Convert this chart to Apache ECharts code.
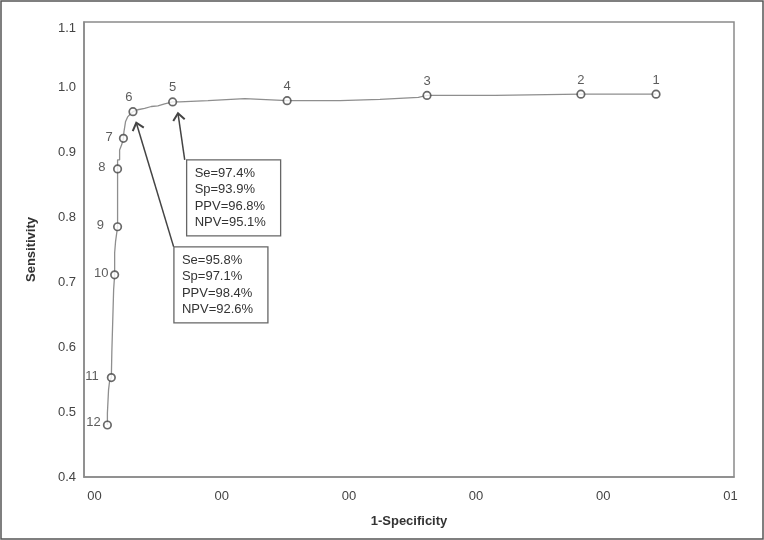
<!DOCTYPE html>
<html>
<head>
<meta charset="utf-8" />
<title>ROC curve</title>
<script src="https://cdn.jsdelivr.net/npm/echarts@6/dist/echarts.min.js"></script>
</head>
<body style="margin:0">
<div id="main" style="width:764px;height:540px"></div>
<script>
// step curve (1-specificity, sensitivity)
var curveX = [0.101,0.101,0.110,0.110,0.118,0.118,0.132,0.136,0.150,0.150,0.158,0.158,0.165,0.165,0.179,0.181,0.181,0.181,0.181,0.197,0.197,0.213,0.227,0.231,0.244,0.260,0.280,0.302,0.339,0.339,0.394,0.394,0.446,0.446,0.498,0.498,0.551,0.551,0.614,0.669,0.669,0.892,0.892,1.181,1.181,1.514,1.929,1.929,2.244,2.244,2.546,2.546,2.614,3.150,3.150,3.824,4.415];
var curveY = [0.480,0.498,0.498,0.534,0.534,0.547,0.553,0.593,0.593,0.688,0.711,0.745,0.745,0.762,0.762,0.785,0.808,0.874,0.888,0.888,0.903,0.911,0.921,0.931,0.947,0.954,0.958,0.962,0.965,0.967,0.967,0.970,0.970,0.971,0.971,0.974,0.974,0.976,0.977,0.977,0.979,0.979,0.982,0.982,0.979,0.979,0.979,0.981,0.981,0.984,0.984,0.986,0.987,0.987,0.989,0.989,0.989];

// numbered cut-off points
var markerLabels = ['1','2','3','4','5','6','7','8','9','10','11','12'];
var markerX = [4.415,3.824,2.614,1.514,0.614,0.302,0.227,0.181,0.181,0.158,0.132,0.101];
var markerY = [0.989,0.989,0.987,0.979,0.977,0.962,0.921,0.874,0.785,0.711,0.553,0.480];

// axis labels
var xTickValues = [0, 1, 2, 3, 4, 5];
var xTickLabels = ['00','00','00','00','00','01'];

// annotation boxes
var box1Lines = ['Se=97.4%','Sp=93.9%','PPV=96.8%','NPV=95.1%'];
var box2Lines = ['Se=95.8%','Sp=97.1%','PPV=98.4%','NPV=92.6%'];
var boxCornerX = [0.724, 0.624];
var boxCornerY = [0.888, 0.754];
var arrowFromX = [0.709, 0.622];
var arrowFromY = [0.888, 0.754];
var arrowToX = [0.656, 0.328];
var arrowToY = [0.9595, 0.945];

var FONT = "'Liberation Sans', Arial, sans-serif";

// label placement for each numbered point
var leftDist = {'7': 6, '8': 7.5, '9': 9, '10': 1.5, '11': 8, '12': 2};

var chart = echarts.init(document.getElementById('main'));

var curveData = curveX.map(function (x, i) { return [x, curveY[i]]; });
var markerData = markerX.map(function (x, i) {
  var name = markerLabels[i];
  var item = { value: [x, markerY[i]], name: name };
  if (leftDist[name] !== undefined) {
    item.label = { position: 'left', distance: leftDist[name], offset: [0, name === '12' ? -3 : -1] };
  } else {
    item.label = { position: 'top', distance: 3, offset: name === '6' ? [-4, 0] : [0, 0] };
  }
  return item;
});

var option = {
  animation: false,
  backgroundColor: '#fff',
  grid: {
    left: 84, right: 30, top: 22, bottom: 63,
    show: true, borderColor: '#8a8a8a', borderWidth: 1.5, backgroundColor: 'transparent'
  },
  xAxis: {
    type: 'value',
    min: -0.083,
    max: 5.028,
    name: '1-Specificity',
    nameLocation: 'middle',
    nameGap: 38,
    nameTextStyle: { fontFamily: FONT, fontWeight: 'bold', fontSize: 13, color: '#333' },
    axisLine: { show: true, onZero: false, lineStyle: { color: '#8a8a8a', width: 1.5 } },
    axisTick: { show: false },
    splitLine: { show: false },
    axisLabel: {
      customValues: xTickValues,
      margin: 13,
      fontFamily: FONT, fontSize: 13, color: '#444',
      formatter: function (v) {
        var k = xTickValues.indexOf(Math.round(v));
        return k >= 0 ? xTickLabels[k] : '';
      }
    }
  },
  yAxis: {
    type: 'value',
    min: 0.4,
    max: 1.1,
    interval: 0.1,
    name: 'Sensitivity',
    nameLocation: 'middle',
    nameGap: 46,
    nameTextStyle: { fontFamily: FONT, fontWeight: 'bold', fontSize: 13, color: '#333' },
    axisLine: { show: true, onZero: false, lineStyle: { color: '#8a8a8a', width: 1.5 } },
    axisTick: { show: false },
    splitLine: { show: false },
    axisLabel: {
      margin: 8,
      fontFamily: FONT, fontSize: 13, color: '#444',
      verticalAlignMaxLabel: 'top',
      formatter: function (v) { return v.toFixed(1); }
    }
  },
  series: [
    {
      type: 'line',
      data: curveData,
      showSymbol: false,
      silent: true,
      lineStyle: { color: '#8e8e8e', width: 1.3 },
      z: 2
    },
    {
      type: 'scatter',
      data: markerData,
      symbol: 'circle',
      symbolSize: 7.5,
      itemStyle: { color: '#fff', borderColor: '#444', borderWidth: 1.7 },
      label: {
        show: true,
        formatter: '{b}',
        fontFamily: FONT, fontSize: 13, color: '#333'
      },
      z: 3
    }
  ]
};

chart.setOption(option);

// frame, arrows and text boxes placed from data coordinates
function toPx(x, y) { return chart.convertToPixel({ gridIndex: 0 }, [x, y]); }

var elements = [{
  type: 'rect',
  shape: { x: 1, y: 1, width: 762, height: 538 },
  style: { fill: 'none', stroke: '#555', lineWidth: 1.5 },
  silent: true
}];

for (var i = 0; i < 2; i++) {
  var a = toPx(arrowFromX[i], arrowFromY[i]);
  var b = toPx(arrowToX[i], arrowToY[i]);
  var dx = a[0] - b[0], dy = a[1] - b[1];
  var len = Math.sqrt(dx * dx + dy * dy);
  var ux = dx / len, uy = dy / len;
  var ang = 40 * Math.PI / 180, hl = 9;
  var h1 = [b[0] + hl * (ux * Math.cos(ang) - uy * Math.sin(ang)), b[1] + hl * (ux * Math.sin(ang) + uy * Math.cos(ang))];
  var h2 = [b[0] + hl * (ux * Math.cos(-ang) - uy * Math.sin(-ang)), b[1] + hl * (ux * Math.sin(-ang) + uy * Math.cos(-ang))];
  elements.push({
    type: 'polyline', silent: true, z: 10,
    shape: { points: [a, b] },
    style: { stroke: '#444', lineWidth: 1.5, fill: null }
  });
  elements.push({
    type: 'polyline', silent: true, z: 10,
    shape: { points: [h1, b, h2] },
    style: { stroke: '#444', lineWidth: 2, fill: null }
  });

  var c = toPx(boxCornerX[i], boxCornerY[i]);
  var lines = i === 0 ? box1Lines : box2Lines;
  elements.push({
    type: 'rect', silent: true, z: 11,
    shape: { x: c[0], y: c[1], width: 94, height: 76 },
    style: { fill: '#fff', stroke: '#666', lineWidth: 1.3 }
  });
  elements.push({
    type: 'text', silent: true, z: 12,
    x: c[0] + 8, y: c[1] + 38,
    style: {
      text: lines.join('\n'),
      font: '13px ' + FONT,
      fill: '#333',
      lineHeight: 16.5,
      verticalAlign: 'middle',
      align: 'left'
    }
  });
}

chart.setOption({ graphic: { elements: elements } });
</script>
</body>
</html>
